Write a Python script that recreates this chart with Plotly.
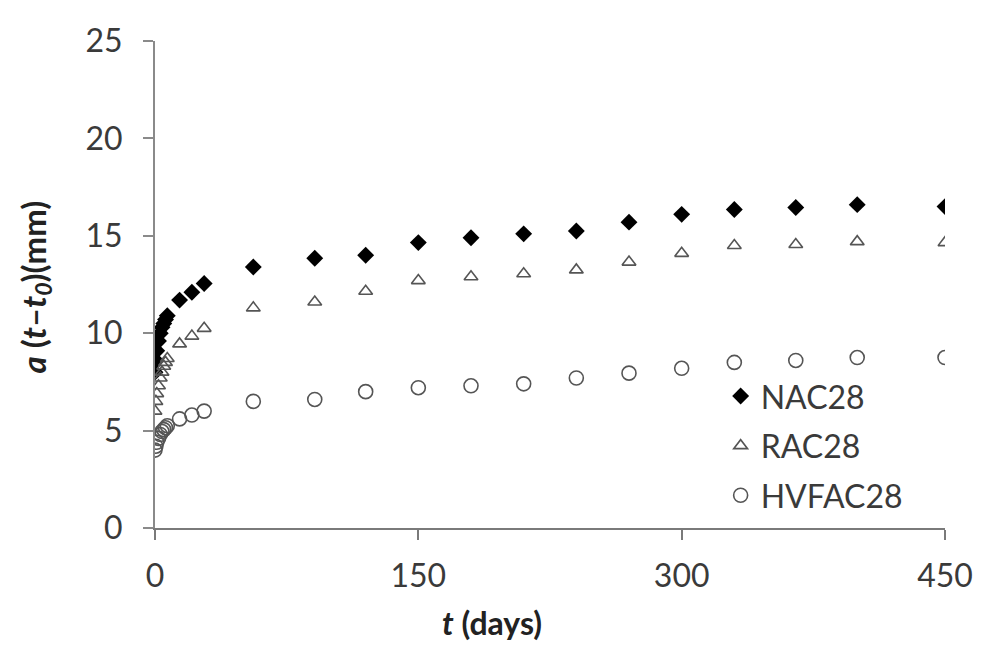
import plotly.graph_objects as go

# ---- data ----
days = [0, 0.5, 1, 2, 3, 4, 5, 6, 7, 14, 21, 28,
        56, 91, 120, 150, 180, 210, 240, 270, 300, 330, 365, 400, 450]

nac28 = [8.0, 8.6, 9.1, 9.6, 10.0, 10.3, 10.5, 10.7, 10.9, 11.7, 12.1, 12.55,
         13.4, 13.85, 14.0, 14.65, 14.9, 15.1, 15.25, 15.7, 16.1, 16.35, 16.45, 16.6, 16.5]

rac28 = [6.0, 6.5, 6.9, 7.3, 7.7, 8.0, 8.3, 8.5, 8.7, 9.45, 9.85, 10.25,
         11.3, 11.6, 12.15, 12.7, 12.9, 13.05, 13.25, 13.65, 14.1, 14.5, 14.55, 14.7, 14.65]

hvfac28 = [4.0, 4.2, 4.4, 4.6, 4.8, 4.95, 5.05, 5.15, 5.25, 5.6, 5.8, 6.0,
           6.5, 6.6, 7.0, 7.2, 7.3, 7.4, 7.7, 7.95, 8.2, 8.5, 8.6, 8.75, 8.75]

x_ticks = [0, 150, 300, 450]
y_ticks = [0, 5, 10, 15, 20, 25]

FONT = "Lato"
TXT = "#3a3a3a"

fig = go.Figure()
fig.add_trace(go.Scatter(
    x=days, y=nac28, mode="markers", name="NAC28", legendgroup="a",
    marker=dict(symbol="diamond", size=13, color="black",
                line=dict(width=0))))
fig.add_trace(go.Scatter(
    x=days, y=rac28, mode="markers", name="RAC28", legendgroup="b",
    marker=dict(symbol="triangle-up-open", size=12, color="#555555",
                line=dict(width=1.6))))
fig.add_trace(go.Scatter(
    x=days, y=hvfac28, mode="markers", name="HVFAC28", legendgroup="c",
    marker=dict(symbol="circle-open", size=14, color="#555555",
                line=dict(width=1.6))))

# page body adds ~8px offset; margins compensate so the plot area sits at
# x 155..945, y 30..528 in the screenshot
fig.update_layout(
    width=994, height=645,
    margin=dict(l=147, r=57, t=22, b=125),
    paper_bgcolor="white", plot_bgcolor="white",
    font=dict(family=FONT, size=24, color=TXT),
    legend=dict(x=0.716, y=0.327, xanchor="left", yanchor="top",
                bgcolor="rgba(255,255,255,0)", borderwidth=0,
                font=dict(size=32, color=TXT), itemsizing="trace",
                traceorder="grouped", tracegroupgap=5),
    showlegend=True,
)

fig.update_xaxes(
    range=[0, 450], tickvals=x_ticks, ticktext=[str(v) for v in x_ticks],
    showgrid=False, zeroline=False,
    showline=True, linecolor="#7a7a7a", linewidth=2,
    ticks="outside", ticklen=10, tickcolor="#7a7a7a", tickwidth=1.5,
    tickfont=dict(size=32, color=TXT), ticklabelstandoff=9,
)
fig.update_yaxes(
    range=[0, 25], tickvals=y_ticks, ticktext=[str(v) for v in y_ticks],
    showgrid=False, zeroline=False,
    showline=True, linecolor="#8a8a8a", linewidth=2,
    ticks="outside", ticklen=10, tickcolor="#8a8a8a", tickwidth=1.5,
    tickfont=dict(size=32, color=TXT), ticklabelstandoff=14,
)

fig.add_annotation(
    text="<b><i>a</i> (<i>t</i>–<i>t</i><sub><i>0</i></sub>)(mm)</b>",
    xref="paper", yref="paper", x=(35 - 155) / 790, y=1 - (282 - 30) / 498,
    xanchor="center", yanchor="middle", textangle=-90,
    showarrow=False, font=dict(size=33, color="#222222"))

fig.add_annotation(
    text="<b><i>t</i> (days)</b>", xref="paper", yref="paper",
    x=(492 - 155) / 790, y=1 - (625 - 30) / 498,
    xanchor="center", yanchor="middle",
    showarrow=False, font=dict(size=32, color="#222222"))

fig.write_html("out.html")
